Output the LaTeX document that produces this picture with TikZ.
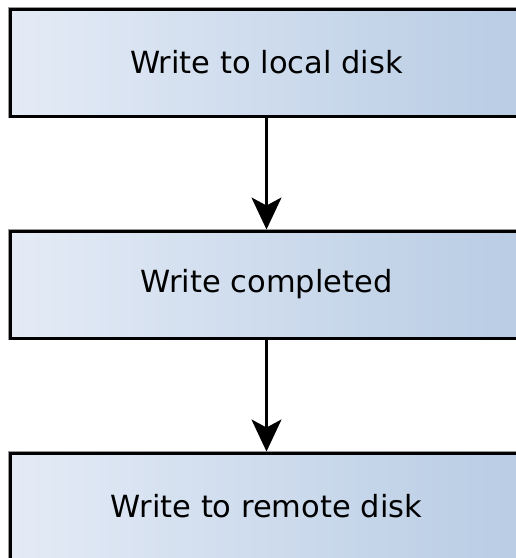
\documentclass[tikz,border=0pt]{standalone}
\usepackage{fontspec}
\setmainfont{DejaVu Sans}
\usetikzlibrary{arrows.meta}
\definecolor{boxleft}{RGB}{228,235,246}
\definecolor{boxright}{RGB}{184,204,228}
\tikzset{
  stepbox/.style={rectangle, draw=black, line width=3pt,
    left color=boxleft, right color=boxright,
    preaction={draw=black!40, line width=4.6pt},
    minimum width=513pt, minimum height=107pt, inner sep=0pt,
    font=\fontsize{30.5}{36}\selectfont},
  flow/.style={line width=2.2pt, -{Stealth[length=32pt,width=30pt,inset=8pt]}}
}
\begin{document}
\begin{tikzpicture}[x=1pt,y=1pt]
\useasboundingbox (0,0) rectangle (516,-558);
\node[stepbox] (a) at (266.5,-62.5) {Write to local disk};
\node[stepbox] (b) at (266.5,-284.5) {Write completed};
\node[stepbox] (c) at (266.5,-506.5) {Write to remote disk};
\draw[flow] (a) -- (b);
\draw[flow] (b) -- (c);
\end{tikzpicture}
\end{document}
